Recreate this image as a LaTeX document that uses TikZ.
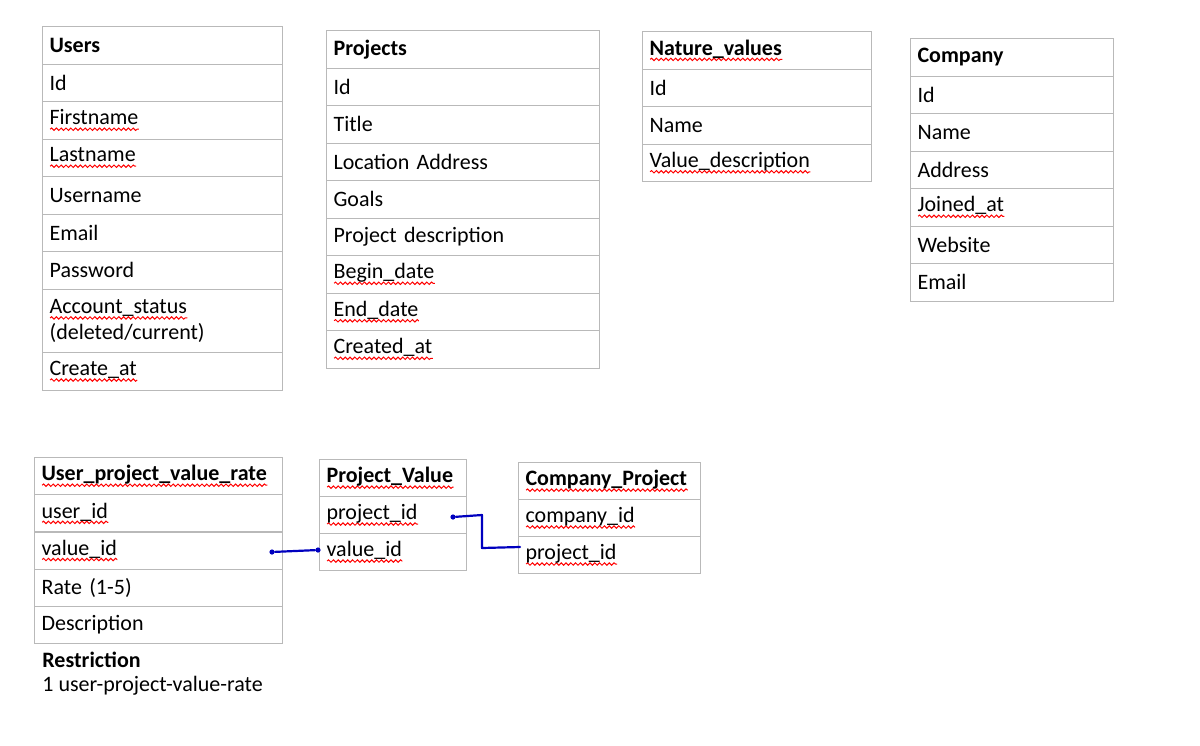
\documentclass[tikz,border=0pt]{standalone}
\usepackage{fontspec}
\setmainfont{Carlito}
\usepackage{xcolor}
\usepackage{tikz}
\usetikzlibrary{positioning, decorations.pathmorphing}

% red spell-check squiggle
\newsavebox{\spellbox}
\newcommand{\spell}[1]{\sbox{\spellbox}{#1}\rlap{\raisebox{-3pt}{\tikz\draw[red, line width=0.5pt, decorate, decoration={snake, amplitude=0.6pt, segment length=2.4pt}] (0pt,0pt) -- (\wd\spellbox,0pt);}}\usebox{\spellbox}}

\begin{document}
\begin{tikzpicture}[
        x=0.5pt, y=-0.5pt,
        font=\fontsize{11}{13}\selectfont,
        cell/.style={rectangle, draw=gray!55, line width=0.6pt, anchor=north west, align=left, inner xsep=3.5pt, minimum height=18.75pt},
        link/.style={draw=blue!75!black, line width=1.1pt, line cap=round, line join=round},
        dot/.style={circle, fill=blue!75!black, inner sep=0pt, minimum size=2.6pt}
    ]
        \useasboundingbox (0,0) rectangle (1200,745);

        % Users
        \foreach \t [count=\i from 0] in {\textbf{Users}, Id, \spell{Firstname}, \spell{Lastname}, Username, Email, Password}
            \node[cell, text width=113pt] (u\i) at (42,{26+37.5*\i}) {\t};
        \node[cell, text width=113pt, minimum height=31.5pt] (u7) at (42,289) {\spell{Account\_status}\\(deleted/current)};
        \node[cell, text width=113pt, minimum height=19pt] (u8) at (42,352) {\spell{Create\_at}};

        % Projects
        \foreach \t [count=\i from 0] in {\textbf{Projects}, Id, Title, Location Address, Goals, Project description, \spell{Begin\_date}, \spell{End\_date}, \spell{Created\_at}}
            \node[cell, text width=129.5pt] (p\i) at (326,{30+37.5*\i}) {\t};

        % Nature values
        \foreach \t [count=\i from 0] in {\spell{\textbf{Nature\_values}}, Id, Name, \spell{Value\_description}}
            \node[cell, text width=107.5pt] (n\i) at (642,{31+37.5*\i}) {\t};

        % Company
        \foreach \t [count=\i from 0] in {\textbf{Company}, Id, Name, Address, \spell{Joined\_at}, Website, Email}
            \node[cell, text width=94.5pt] (c\i) at (910,{38+37.5*\i}) {\t};

        % User project value rate
        \foreach \t [count=\i from 0] in {\spell{\textbf{User\_project\_value\_rate}}, \spell{user\_id}, \spell{value\_id}, Rate (1-5), Description}
            \node[cell, text width=117pt, minimum height=18.6pt] (r\i) at (34,{457+37.2*\i}) {\t};

        % Project value
        \foreach \t [count=\i from 0] in {\spell{\textbf{Project\_Value}}, \spell{project\_id}, \spell{value\_id}}
            \node[cell, text width=66.5pt, minimum height=18.5pt] (v\i) at (319,{459+37*\i}) {\t};

        % Company project
        \foreach \t [count=\i from 0] in {\spell{\textbf{Company\_Project}}, \spell{company\_id}, \spell{project\_id}}
            \node[cell, text width=84pt, minimum height=18.5pt] (cp\i) at (518,{462+37*\i}) {\t};

        % Restriction
        \node[anchor=west, inner sep=0pt] (res) at (42,660) {\textbf{Restriction}};
        \node[anchor=west, inner sep=0pt] (rest) at (42,686) {1 user-project-value-rate};

        % Links
        \node[dot] (d1) at (272,552) {};
        \node[dot] (d2) at (318,550) {};
        \node[dot] (d3) at (453,517) {};
        \coordinate (d4) at (520,547);
        \draw[link] (d1) -- (d2);
        \draw[link] (d3) -- (482,515) -- (482,548) -- (d4);
    \end{tikzpicture}
\end{document}
